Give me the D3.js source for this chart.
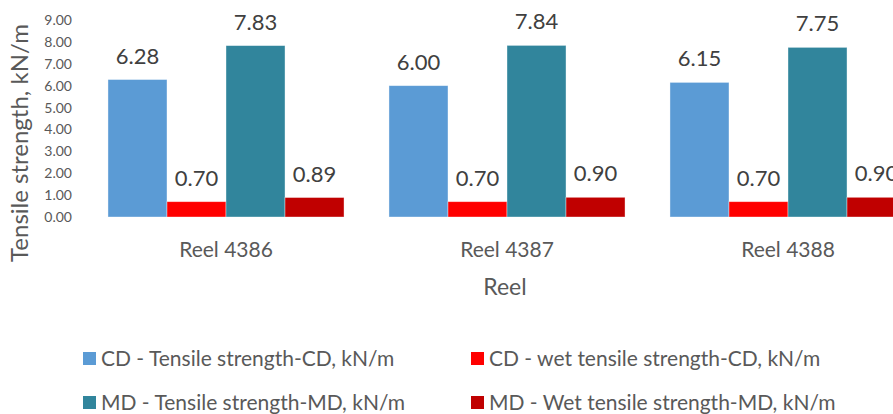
<!DOCTYPE html>
<html>
<head>
<meta charset="utf-8">
<script src="https://cdn.jsdelivr.net/npm/d3@7"></script>
<style>
  html, body { margin: 0; padding: 0; background: #fff; }
  svg { display: block; font-family: Lato, "Open Sans", sans-serif; }
</style>
</head>
<body>
<svg id="chart" width="893" height="414"></svg>
<script>
const categories = ["Reel 4386", "Reel 4387", "Reel 4388"];
const seriesNames = [
  "CD - Tensile strength-CD, kN/m",
  "CD - wet tensile strength-CD, kN/m",
  "MD - Tensile strength-MD, kN/m",
  "MD - Wet tensile strength-MD, kN/m"
];
const cdTensile = [6.28, 6.00, 6.15];
const cdWet = [0.70, 0.70, 0.70];
const mdTensile = [7.83, 7.84, 7.75];
const mdWet = [0.89, 0.90, 0.90];
const yTicks = [0, 1, 2, 3, 4, 5, 6, 7, 8, 9];
const colors = ["#5B9BD5", "#FF0000", "#31859C", "#C00000"];

const seriesValues = [cdTensile, cdWet, mdTensile, mdWet];

const svg = d3.select("#chart");
const plot = { left: 85.5, right: 928.5, top: 20, bottom: 217 };

const x0 = d3.scaleBand().domain(categories).range([plot.left, plot.right])
  .paddingInner(0.16).paddingOuter(0.08);
const x1 = d3.scaleBand().domain(d3.range(seriesNames.length)).range([0, x0.bandwidth()]).padding(0);
const y = d3.scaleLinear().domain([0, 9]).range([plot.bottom, plot.top]);

// Y axis tick labels
const yAxis = d3.axisLeft(y).tickValues(yTicks).tickFormat(d3.format(".2f")).tickSize(0).tickPadding(0);
const ya = svg.append("g").attr("transform", "translate(72,0)").call(yAxis);
ya.select(".domain").remove();
ya.selectAll("text").attr("fill", "#595959").style("font-size", "14px").style("font-family", "Lato, sans-serif");

// bars
const groups = svg.append("g").selectAll("g").data(categories).join("g")
  .attr("transform", d => `translate(${x0(d)},0)`);

groups.each(function(cat, ci) {
  const g = d3.select(this);
  seriesValues.forEach((vals, si) => {
    const v = vals[ci];
    g.append("rect")
      .attr("x", x1(si))
      .attr("y", y(v))
      .attr("width", x1.bandwidth())
      .attr("height", y(0) - y(v))
      .attr("fill", colors[si])
      .attr("stroke", "#ffffff")
      .attr("stroke-opacity", 0.5)
      .attr("stroke-width", 0.75);
    g.append("text")
      .attr("x", x1(si) + x1.bandwidth() / 2)
      .attr("y", y(v) - 16)
      .attr("text-anchor", "middle")
      .attr("fill", "#404040")
      .style("font-size", "22px")
      .text(d3.format(".2f")(v));
  });
});

// X axis category labels
const xAxis = d3.axisBottom(x0).tickSize(0).tickPadding(0);
const xa = svg.append("g").attr("transform", `translate(0,${plot.bottom})`).call(xAxis);
xa.select(".domain").remove();
xa.selectAll("text").attr("fill", "#595959").attr("dy", null).attr("y", 40)
  .style("font-size", "21px").style("font-family", "Lato, sans-serif");

// Axis titles
svg.append("text")
  .attr("x", (plot.left + plot.right) / 2 - 2)
  .attr("y", 295)
  .attr("text-anchor", "middle")
  .attr("fill", "#595959")
  .style("font-size", "23px")
  .text("Reel");

svg.append("text")
  .attr("transform", `translate(28,143) rotate(-90)`)
  .attr("text-anchor", "middle")
  .attr("fill", "#595959")
  .style("font-size", "24px")
  .text("Tensile strength, kN/m");

// Legend
const legendPos = [
  { x: 83, y: 358.5 }, { x: 471, y: 358.5 },
  { x: 83, y: 402.5 }, { x: 471, y: 402.5 }
];
const leg = svg.append("g").selectAll("g").data(seriesNames).join("g")
  .attr("transform", (d, i) => `translate(${legendPos[i].x},${legendPos[i].y})`);
leg.append("rect").attr("x", 0).attr("y", -6.5).attr("width", 13).attr("height", 13)
  .attr("fill", (d, i) => colors[i]);
leg.append("text").attr("x", 18).attr("y", 7.5).attr("fill", "#595959")
  .style("font-size", "21px").text(d => d);
</script>
</body>
</html>
